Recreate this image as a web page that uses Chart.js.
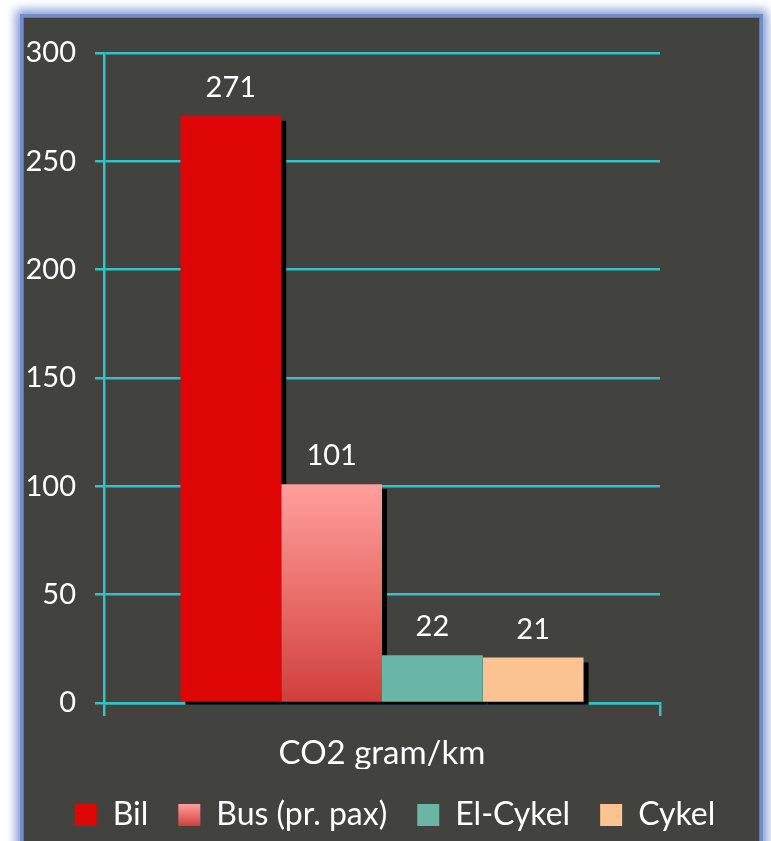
<!DOCTYPE html>
<html>
<head>
<meta charset="utf-8">
<script src="https://cdn.jsdelivr.net/npm/chart.js@4/dist/chart.umd.min.js"></script>
<style>
  html, body { margin: 0; padding: 0; background: #ffffff; width: 771px; height: 841px; overflow: hidden; }
  #frame {
    position: absolute; left: 23px; top: 17px; width: 737px; height: 900px;
    background: #42423e; border: 1px solid #77776f; box-sizing: border-box;
    box-shadow: 0 0 0 3px #6f8ccb, 0 0 10px 7px #7d98d0;
  }
  #wrap { position: absolute; left: 0; top: 0; width: 771px; height: 841px; }
</style>
</head>
<body>
<div id="frame"></div>
<div id="wrap"><canvas id="c" width="771" height="841"></canvas></div>
<script>
const categories = ['CO2 gram/km'];
const seriesNames = ['Bil', 'Bus (pr. pax)', 'El-Cykel', 'Cykel'];
const bil = [271];
const bus = [101];
const elCykel = [22];
const cykel = [21];
const yTicks = [0, 50, 100, 150, 200, 250, 300];

const GRID = '#2fc4c6';
const FONT = 'Lato';

function busGradient(chart, top, bottom) {
  const g = chart.ctx.createLinearGradient(0, top, 0, bottom);
  g.addColorStop(0, '#ff9f9d');
  g.addColorStop(0.5, '#ea6f6c');
  g.addColorStop(1, '#cf3f3b');
  return g;
}

const shadowPlugin = {
  id: 'shadows',
  beforeDatasetsDraw(chart) {
    const ctx = chart.ctx;
    ctx.save();
    ctx.fillStyle = '#000000';
    chart.getSortedVisibleDatasetMetas().forEach(meta => {
      meta.data.forEach(el => {
        const p = el.getProps(['x', 'y', 'base', 'width'], true);
        ctx.fillRect(p.x - p.width / 2 + 5, p.y + 5, p.width, p.base - p.y - 2);
      });
    });
    ctx.restore();
  }
};

const valueLabels = {
  id: 'valueLabels',
  afterDatasetsDraw(chart) {
    const ctx = chart.ctx;
    ctx.save();
    ctx.fillStyle = '#ffffff';
    ctx.font = '29px ' + FONT;
    ctx.textAlign = 'center';
    ctx.textBaseline = 'alphabetic';
    chart.data.datasets.forEach((ds, i) => {
      const meta = chart.getDatasetMeta(i);
      meta.data.forEach((el, j) => {
        const p = el.getProps(['x', 'y'], true);
        ctx.fillText(String(ds.data[j]), p.x, p.y - 19);
      });
    });
    ctx.restore();
  }
};

const legendGradient = {
  id: 'legendGradient',
  beforeDraw(chart) {
    const lg = chart.legend;
    if (!lg || !lg.legendItems || !lg.legendItems[1]) return;
    const pad = lg.options.labels.padding;
    const top = lg.top + pad + 5;
    lg.legendItems[1].fillStyle = busGradient(chart, top, top + 22);
  }
};

new Chart(document.getElementById('c'), {
  type: 'bar',
  data: {
    labels: categories,
    datasets: [
      { label: seriesNames[0], data: bil, backgroundColor: '#dd0604' },
      { label: seriesNames[1], data: bus, backgroundColor: (ctx) => {
          const chart = ctx.chart;
          if (!chart.chartArea) return '#e86a66';
          const y = chart.scales.y;
          return busGradient(chart, y.getPixelForValue(bus[0]), y.getPixelForValue(0));
        } },
      { label: seriesNames[2], data: elCykel, backgroundColor: '#69b5a6' },
      { label: seriesNames[3], data: cykel, backgroundColor: '#fbc392' }
    ]
  },
  options: {
    responsive: false,
    animation: false,
    events: [],
    layout: { padding: { top: 53, left: 19, right: 0, bottom: 0 } },
    datasets: { bar: { barPercentage: 1, categoryPercentage: 0.725, borderWidth: 0 } },
    scales: {
      x: {
        type: 'category',
        z: 1,
        grid: { offset: true, drawOnChartArea: false, color: GRID, lineWidth: 2.5, tickLength: 13 },
        border: { display: true, color: GRID, width: 2.5 },
        ticks: { color: '#ffffff', font: { family: FONT, size: 33 }, padding: 18 },
        afterFit(scale) { scale.height = 66; }
      },
      y: {
        min: 0, max: 300,
        afterBuildTicks(scale) { scale.ticks = yTicks.map(v => ({ value: v })); },
        grid: { color: GRID, lineWidth: 2.5, tickLength: 9 },
        border: { display: true, color: GRID, width: 2.5 },
        ticks: { color: '#ffffff', font: { family: FONT, size: 29 }, padding: 19 },
        afterFit(scale) { scale.width = 85; }
      },
      yRight: {
        position: 'right', min: 0, max: 300,
        grid: { display: false },
        border: { display: false },
        ticks: { display: false },
        afterFit(scale) { scale.width = 111; }
      }
    },
    plugins: {
      legend: {
        position: 'bottom',
        labels: { color: '#ffffff', font: { family: FONT, size: 32 }, boxWidth: 22, boxHeight: 22, padding: 30 }
      },
      tooltip: { enabled: false }
    }
  },
  plugins: [shadowPlugin, valueLabels, legendGradient]
});
</script>
</body>
</html>
